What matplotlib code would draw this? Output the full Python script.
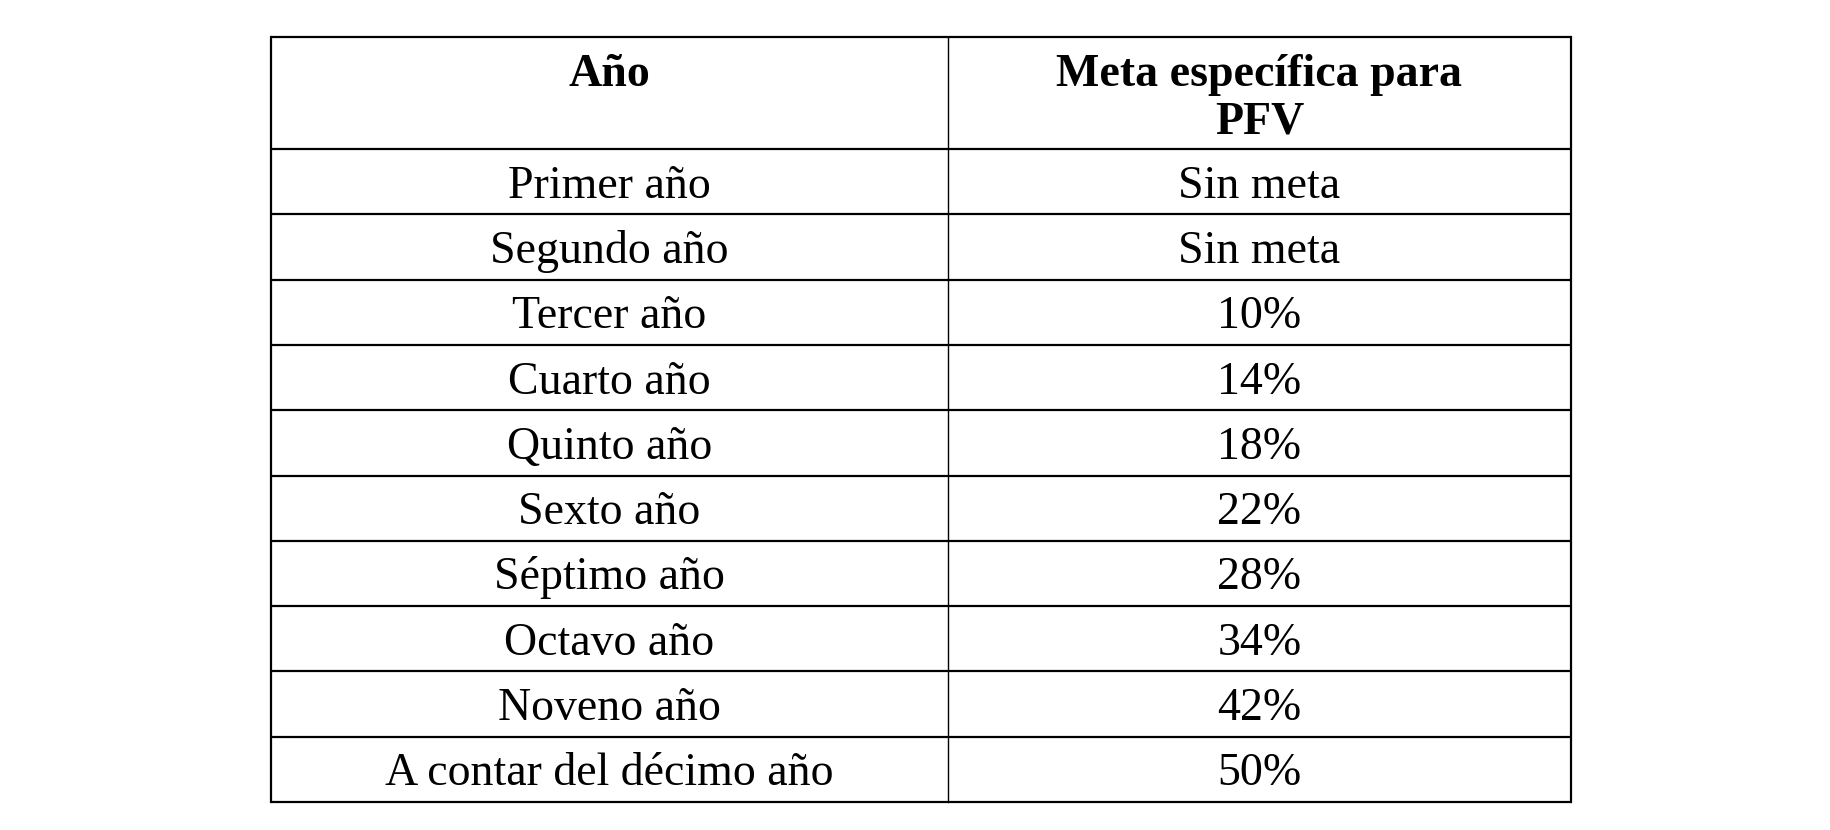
import matplotlib.pyplot as plt

# datos de la tabla
encabezado_ano = "Año"
encabezado_meta = ["Meta específica para", "PFV"]
anos = ["Primer año", "Segundo año", "Tercer año", "Cuarto año", "Quinto año",
        "Sexto año", "Séptimo año", "Octavo año", "Noveno año",
        "A contar del décimo año"]
metas = ["Sin meta", "Sin meta", "10%", "14%", "18%", "22%", "28%", "34%",
         "42%", "50%"]

plt.rcParams['font.family'] = ['Liberation Serif', 'DejaVu Serif']

fig = plt.figure(figsize=(18.3, 8.3), dpi=100)
ax = fig.add_axes([0, 0, 1, 1])
ax.set_xlim(0, 1830)
ax.set_ylim(830, 0)
ax.axis('off')

x0, xm, x1 = 271, 948, 1571
y0, yh = 37, 149
h = 65.3
n = len(anos)
y1 = yh + n * h
c1 = (x0 + xm) / 2
c2 = (xm + x1) / 2
fs = 33

# lineas
for k in range(n + 1):
    ax.plot([x0, x1], [yh + k * h] * 2, color='black', lw=1.6,
            solid_capstyle='butt')
ax.plot([x0, x1], [y0, y0], color='black', lw=1.6, solid_capstyle='butt')
ax.plot([x0, x0], [y0, y1], color='black', lw=1.6)
ax.plot([x1, x1], [y0, y1], color='black', lw=1.6)
ax.plot([xm, xm], [y0, y1], color='black', lw=1.0)

# encabezado
ax.text(c1, 86, encabezado_ano, ha='center', va='baseline', fontsize=fs,
        fontweight='bold')
for i, linea in enumerate(encabezado_meta):
    ax.text(c2, 86 + i * 47, linea, ha='center', va='baseline', fontsize=fs,
            fontweight='bold')

# filas
for i, (a, m) in enumerate(zip(anos, metas)):
    yb = yh + i * h + h / 2 + 16
    ax.text(c1, yb, a, ha='center', va='baseline', fontsize=fs)
    ax.text(c2, yb, m, ha='center', va='baseline', fontsize=fs)

fig.savefig('out.png', dpi=100, facecolor='white')
